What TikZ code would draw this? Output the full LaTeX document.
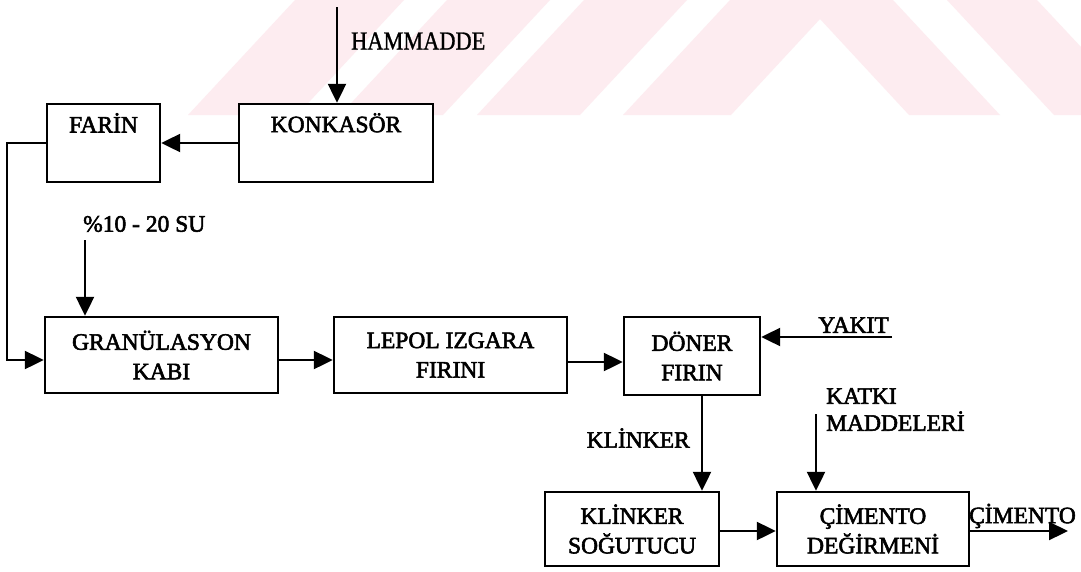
\documentclass[tikz,border=0pt]{standalone}
\usepackage{fontspec}
\setmainfont{Liberation Serif}[FakeBold=2.4]
\newfontfamily\hamfont{Liberation Serif}[FakeBold=1.0, FakeStretch=0.86]
\usetikzlibrary{arrows.meta}
\definecolor{wm}{RGB}{253,236,240}
\tikzset{
  box/.style={draw, line width=2.4pt, fill=white, inner sep=0pt, align=center,
              font=\fontsize{23.5}{29.5}\selectfont},
  flow/.style={line width=2.2pt, -{Triangle[length=19pt,width=18pt]}},
  lbl/.style={inner sep=0pt, font=\fontsize{23.5}{27}\selectfont},
  wmark/.style={fill=wm, draw=none}
}
\begin{document}
\begin{tikzpicture}[x=1pt,y=-1pt]
\fill[white] (0,0) rectangle (1081,571);
\useasboundingbox (0,0) rectangle (1081,571);
% watermark
\fill[wmark] (188,115) -- (297,115) -- (404,0) -- (295,0) -- cycle;
\fill[wmark] (340,115) -- (443,115) -- (550,0) -- (447,0) -- cycle;
\fill[wmark] (477,115) -- (580,115) -- (687,0) -- (584,0) -- cycle;
\fill[wmark] (623,115) -- (731,115) -- (820,19) -- (909,115) -- (1000,115) -- (893,0) -- (730,0) -- cycle;
\fill[wmark] (947,0) -- (1037,0) -- (1081,47) -- (1081,115) -- (1054,115) -- cycle;
% boxes
\node[box, minimum width=113pt, minimum height=78pt,
      label={[lbl,anchor=center,yshift=-20pt]north:FARİN}] (far) at (103.5,143) {};
\node[box, minimum width=194pt, minimum height=78pt,
      label={[lbl,anchor=center,yshift=-20pt]north:KONKASÖR}] (kon) at (336,143) {};
\node[box, minimum width=233pt, minimum height=76pt] (gran) at (161.5,355) {GRANÜLASYON\\KABI};
\node[box, minimum width=233pt, minimum height=76pt] (lep) at (450.5,355) {LEPOL IZGARA\\FIRINI};
\node[box, minimum width=136pt, minimum height=78pt] (don) at (692,356) {DÖNER\\FIRIN};
\node[box, minimum width=174pt, minimum height=74pt] (kli) at (632,529) {KLİNKER\\SOĞUTUCU};
\node[box, minimum width=192pt, minimum height=74pt] (cim) at (873,529) {ÇİMENTO\\DEĞİRMENİ};
% free ends
\coordinate (ham) at (337,7);
\coordinate (lft) at (7,250);
\coordinate (su) at (85,240);
\coordinate (yak) at (892,337);
\coordinate (kat) at (816,414);
\coordinate (out) at (1068,531);
% connectors
\draw[flow] (ham) -- (ham |- kon.north);
\draw[flow] (kon.west) -- (far.east);
\draw[flow] (far.west) -| (lft) |- ([yshift=-5pt]gran.west);
\draw[flow] (su) -- (su |- gran.north);
\draw[flow] ([yshift=-5pt]gran.east) -- ([yshift=-5pt]lep.west);
\draw[flow] ([yshift=-7pt]lep.east) -- ([yshift=-6pt]don.west);
\draw[flow] (yak) -- (yak -| don.east);
\draw[flow] ([xshift=10pt]don.south) -- ([xshift=10pt]don.south |- kli.north);
\draw[flow] (kat) -- (kat |- cim.north);
\draw[flow] ([yshift=-2pt]kli.east) -- ([yshift=-2pt]cim.west);
\draw[flow] ([yshift=-2pt]cim.east) -- (out);
% labels
\node[lbl, anchor=west, font=\hamfont\fontsize{26}{28}\selectfont] (lham) at (351,41) {HAMMADDE};
\node[lbl, anchor=west] (lsu) at (83,224) {\%10 - 20 SU};
\node[lbl, anchor=east] (lyak) at (889,325) {YAKIT};
\node[lbl, anchor=east] (lkli) at (690,438) {KLİNKER};
\node[lbl, anchor=north west, align=left] (lkat) at (826,388) {KATKI\\MADDELERİ};
\node[lbl, anchor=west] (lcim) at (969,516) {ÇİMENTO};
\end{tikzpicture}
\end{document}
